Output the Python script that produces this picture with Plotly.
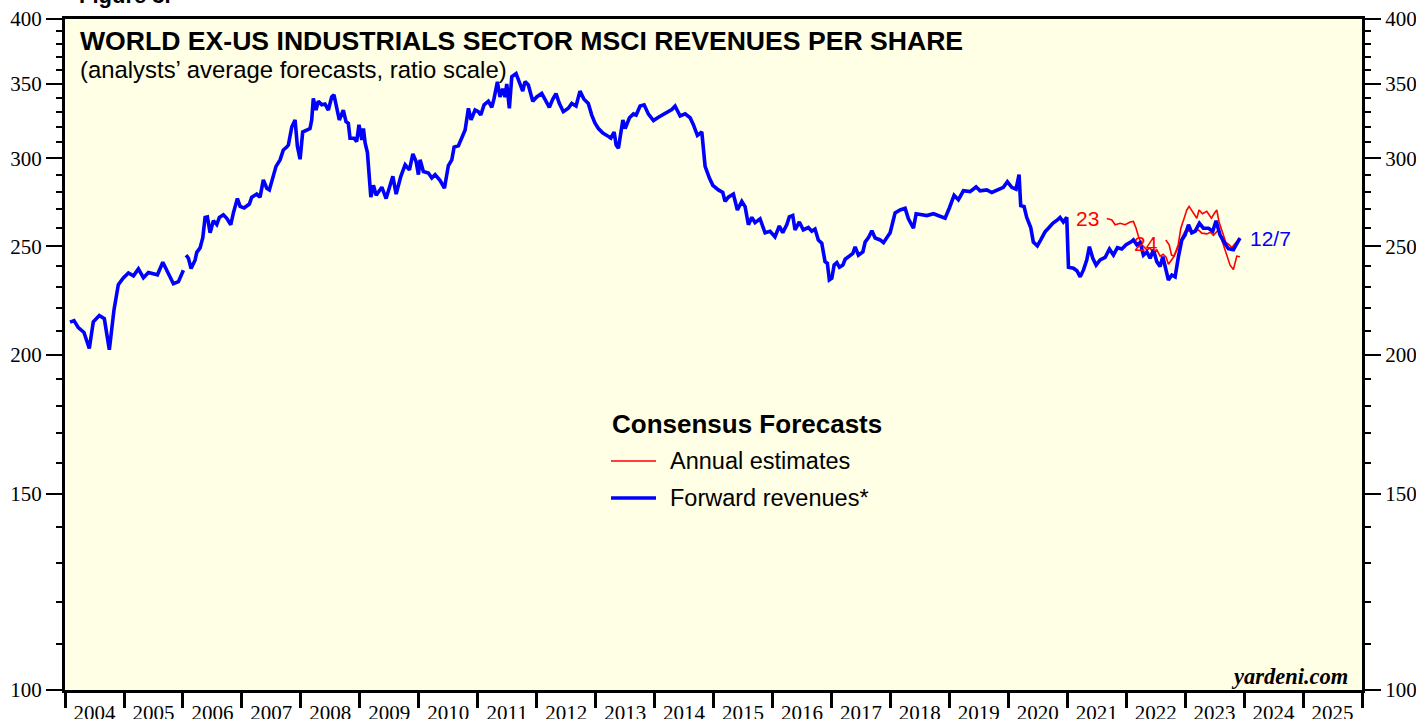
import pandas as pd
import plotly.graph_objs as go

# forward revenues (weekly-ish readings, decimal years)
fwd_years = [
    2004.085, 2004.153, 2004.226, 2004.322, 2004.412, 2004.480, 2004.582, 2004.667, 2004.752, 2004.831,
    2004.904, 2004.989, 2005.074, 2005.159, 2005.243, 2005.328, 2005.413, 2005.566, 2005.657, 2005.752,
    2005.837, 2005.922, 2006.007, 2006.030, 2006.053, 2006.092, 2006.137, 2006.205, 2006.234, 2006.290,
    2006.336, 2006.375, 2006.414, 2006.460, 2006.516, 2006.573, 2006.617, 2006.685, 2006.743, 2006.811,
    2006.855, 2006.923, 2006.969, 2007.037, 2007.127, 2007.167, 2007.252, 2007.308, 2007.364, 2007.422,
    2007.466, 2007.534, 2007.579, 2007.647, 2007.703, 2007.761, 2007.788, 2007.846, 2007.902, 2007.941,
    2007.987, 2008.032, 2008.100, 2008.156, 2008.185, 2008.212, 2008.258, 2008.297, 2008.355, 2008.411,
    2008.467, 2008.524, 2008.563, 2008.609, 2008.653, 2008.721, 2008.767, 2008.806, 2008.835, 2008.903,
    2008.948, 2008.987, 2009.033, 2009.060, 2009.089, 2009.128, 2009.162, 2009.186, 2009.230, 2009.276,
    2009.372, 2009.445, 2009.559, 2009.615, 2009.695, 2009.768, 2009.841, 2009.899, 2009.954, 2009.993,
    2010.022, 2010.078, 2010.163, 2010.221, 2010.277, 2010.362, 2010.435, 2010.502, 2010.560, 2010.599,
    2010.672, 2010.730, 2010.786, 2010.842, 2010.887, 2010.955, 2011.011, 2011.052, 2011.108, 2011.181,
    2011.239, 2011.278, 2011.334, 2011.379, 2011.425, 2011.464, 2011.493, 2011.537, 2011.578, 2011.651,
    2011.707, 2011.764, 2011.803, 2011.859, 2011.934, 2012.002, 2012.087, 2012.143, 2012.216, 2012.273,
    2012.329, 2012.385, 2012.453, 2012.538, 2012.596, 2012.669, 2012.736, 2012.804, 2012.877, 2012.935,
    2012.991, 2013.047, 2013.122, 2013.190, 2013.257, 2013.313, 2013.347, 2013.386, 2013.461, 2013.500,
    2013.573, 2013.640, 2013.686, 2013.754, 2013.822, 2013.895, 2013.980, 2014.065, 2014.149, 2014.234,
    2014.292, 2014.348, 2014.433, 2014.518, 2014.602, 2014.658, 2014.726, 2014.801, 2014.857, 2014.930,
    2014.988, 2015.083, 2015.157, 2015.196, 2015.252, 2015.337, 2015.405, 2015.480, 2015.536, 2015.592,
    2015.650, 2015.705, 2015.790, 2015.875, 2015.960, 2016.044, 2016.117, 2016.175, 2016.243, 2016.287,
    2016.345, 2016.384, 2016.457, 2016.524, 2016.609, 2016.667, 2016.723, 2016.779, 2016.837, 2016.893,
    2016.932, 2016.966, 2017.006, 2017.045, 2017.091, 2017.135, 2017.193, 2017.232, 2017.305, 2017.362,
    2017.401, 2017.457, 2017.532, 2017.571, 2017.627, 2017.685, 2017.741, 2017.826, 2017.882, 2017.940,
    2017.995, 2018.041, 2018.080, 2018.165, 2018.250, 2018.306, 2018.391, 2018.437, 2018.533, 2018.618,
    2018.730, 2018.815, 2018.928, 2019.001, 2019.081, 2019.154, 2019.239, 2019.352, 2019.454, 2019.522,
    2019.636, 2019.721, 2019.833, 2019.917, 2019.985, 2020.060, 2020.133, 2020.184, 2020.212, 2020.269,
    2020.314, 2020.382, 2020.426, 2020.494, 2020.552, 2020.625, 2020.681, 2020.756, 2020.834, 2020.879,
    2020.935, 2020.993, 2021.020, 2021.105, 2021.163, 2021.219, 2021.275, 2021.331, 2021.375, 2021.433,
    2021.489, 2021.557, 2021.642, 2021.715, 2021.783, 2021.850, 2021.925, 2021.998, 2022.078, 2022.122,
    2022.180, 2022.236, 2022.292, 2022.350, 2022.406, 2022.462, 2022.519, 2022.575, 2022.621, 2022.672,
    2022.716, 2022.774, 2022.830, 2022.886, 2022.944, 2023.000, 2023.057, 2023.113, 2023.169, 2023.242,
    2023.310, 2023.395, 2023.469, 2023.525, 2023.593, 2023.661, 2023.734, 2023.819, 2023.930,
]
fwd_values = [
    213.8, 214.5, 211.4, 209.3, 202.5, 214.0, 216.8, 215.4, 202.0, 219.3,
    231.0, 234.3, 236.7, 235.3, 238.7, 234.4, 236.9, 235.8, 242.0, 236.4,
    231.5, 232.5, 238.0, None, 245.6, 244.0, 238.9, 243.0, 247.0, 249.3,
    254.6, 265.5, 265.8, 257.2, 263.7, 261.6, 265.5, 266.9, 265.0, 261.5,
    268.0, 276.0, 271.6, 270.7, 272.9, 276.8, 278.6, 276.8, 286.9, 282.0,
    281.0, 290.0, 295.0, 299.0, 305.2, 307.0, 308.3, 320.0, 324.7, 307.5,
    299.4, 316.7, 318.0, 319.0, 324.7, 339.5, 331.4, 337.5, 335.0, 335.5,
    331.4, 340.5, 342.0, 333.3, 324.7, 331.4, 323.5, 322.5, 312.7, 312.7,
    310.5, 321.5, 311.6, 319.0, 309.6, 303.5, 289.0, 276.8, 283.7, 277.9,
    282.6, 276.0, 289.0, 278.6, 289.0, 296.0, 292.9, 302.7, 298.0, 290.0,
    299.0, 291.9, 291.0, 288.0, 290.0, 286.5, 282.0, 295.5, 299.0, 307.0,
    307.8, 313.5, 318.0, 332.6, 324.7, 331.4, 330.3, 328.0, 335.0, 337.5,
    333.3, 339.5, 351.3, 340.5, 346.3, 340.5, 349.8, 332.6, 355.0, 357.3,
    351.5, 344.6, 351.5, 349.0, 337.5, 340.5, 343.0, 338.4, 333.3, 338.9,
    342.8, 336.0, 330.3, 332.6, 336.0, 334.2, 344.6, 338.9, 336.0, 328.0,
    322.5, 319.0, 316.0, 314.5, 312.7, 316.7, 308.3, 306.3, 324.7, 319.0,
    326.2, 328.8, 328.0, 334.2, 335.0, 328.6, 324.3, 326.5, 328.6, 330.3,
    331.8, 334.2, 327.4, 328.8, 326.2, 321.5, 314.5, 316.7, 295.0, 288.0,
    283.7, 281.0, 279.5, 274.4, 276.8, 278.6, 269.6, 274.4, 271.5, 261.5,
    265.5, 262.6, 264.7, 257.2, 258.0, 255.0, 260.8, 257.3, 261.5, 265.8,
    266.5, 258.7, 263.0, 258.7, 260.0, 258.0, 259.2, 253.4, 251.7, 242.3,
    241.5, 233.3, 234.1, 240.6, 241.8, 239.5, 240.6, 243.5, 245.1, 246.4,
    249.8, 245.6, 247.2, 252.3, 254.6, 258.3, 254.4, 253.4, 252.0, 254.6,
    257.2, 263.0, 268.0, 269.6, 270.5, 264.7, 259.6, 267.5, 267.0, 266.5,
    267.5, 266.5, 265.0, 270.7, 277.9, 275.3, 280.5, 280.0, 282.7, 280.5,
    281.0, 279.5, 281.4, 282.5, 285.8, 282.5, 281.4, 290.0, 272.0, 271.5,
    265.5, 260.0, 252.3, 250.3, 253.4, 257.7, 259.6, 262.3, 264.1, 265.5,
    263.0, 265.5, 239.5, 239.0, 237.8, 234.8, 238.2, 243.2, 249.9, 244.0,
    240.6, 243.2, 244.4, 248.7, 245.6, 249.4, 248.7, 250.9, 252.3, 253.4,
    250.9, 252.0, 245.6, 247.2, 244.0, 248.3, 242.3, 239.9, 244.8, 239.0,
    233.3, 235.7, 234.8, 244.8, 253.4, 256.0, 261.5, 257.2, 258.0, 262.3,
    259.6, 259.6, 258.0, 263.7, 256.0, 252.3, 248.9, 248.3, 254.4,
]

# annual estimates
est23_years = [
    2021.671, 2021.756, 2021.812, 2021.897, 2021.982, 2022.067, 2022.122, 2022.168, 2022.207, 2022.265,
    2022.350, 2022.406, 2022.462, 2022.519, 2022.575, 2022.626, 2022.677, 2022.716, 2022.790, 2022.858,
    2022.944, 2023.000, 2023.068, 2023.142, 2023.226, 2023.284, 2023.369, 2023.429, 2023.480, 2023.564,
    2023.649, 2023.707, 2023.763, 2023.819, 2023.877, 2023.930,
]
est23_values = [
    264.9, 264.1, 261.5, 262.3, 261.5, 263.0, 263.3, 259.6, 255.3, 250.9,
    248.3, 249.2, 246.6, 248.3, 245.1, 246.0, 244.5, 241.0, 244.0, 248.0,
    254.6, 258.0, 258.3, 257.5, 258.7, 257.0, 256.6, 257.5, 255.8, 258.7,
    250.9, 245.1, 240.5, 238.4, 245.1, 244.8,
]
est24_years = [
    2022.672, 2022.729, 2022.769, 2022.814, 2022.882, 2022.927, 2022.983, 2023.029, 2023.068, 2023.108,
    2023.152, 2023.198, 2023.237, 2023.294, 2023.367, 2023.406, 2023.447, 2023.491, 2023.537, 2023.576,
    2023.633, 2023.689, 2023.746, 2023.792, 2023.831, 2023.930,
]
est24_values = [
    253.4, 250.9, 245.6, 245.1, 250.9, 259.6, 265.0, 269.6, 271.6, 269.6,
    266.8, 265.0, 269.6, 267.5, 268.8, 266.8, 265.0, 267.5, 269.6, 263.0,
    257.5, 252.3, 250.9, 249.4, 250.9, 254.4,
]

y_major = [100, 150, 200, 250, 300, 350, 400]
y_minor = [v for v in range(110, 400, 10) if v not in y_major]
last_date_label = "12/7"

BLUE = "#0000ff"
RED = "#ff0000"
SERIF = "Liberation Serif, Times New Roman, serif"
SANS = "Liberation Sans, Arial, sans-serif"

# plot box in pixels
L, R, T, B = 65, 1362, 19, 690
W, H = 1416, 719


def to_dates(years):
    return [pd.Timestamp(int(y), 1, 1) + pd.Timedelta(days=(y - int(y)) * 365.25) for y in years]


def px(x):
    return (x - L) / (R - L)


def py(y):
    return 1 - (y - T) / (B - T)


fwd_x = to_dates(fwd_years)
e23_x = to_dates(est23_years)
e24_x = to_dates(est24_years)

fig = go.Figure()
fig.add_trace(go.Scatter(x=e23_x, y=est23_values, mode="lines", line=dict(color=RED, width=1.6),
                         name="Annual estimates", hoverinfo="skip"))
fig.add_trace(go.Scatter(x=e24_x, y=est24_values, mode="lines", line=dict(color=RED, width=1.6),
                         name="Annual estimates", hoverinfo="skip"))
fig.add_trace(go.Scatter(x=fwd_x, y=fwd_values, mode="lines", line=dict(color=BLUE, width=3.6),
                         name="Forward revenues*"))
# empty helpers so the extra tick axes get drawn
for ax in ["y2", "y3", "y4"]:
    fig.add_trace(go.Scatter(x=[fwd_x[0]], y=[200], yaxis=ax, mode="markers",
                             marker=dict(opacity=0), hoverinfo="skip"))

yrange = [2, 2.60206]
ybase = dict(type="log", range=yrange, showgrid=False, zeroline=False, fixedrange=True,
             automargin=False)
fig.update_layout(
    width=W, height=H,
    margin=dict(l=L, r=W - R, t=T, b=H - B, autoexpand=False),
    paper_bgcolor="white",
    plot_bgcolor="#ffffe5",
    showlegend=False,
    xaxis=dict(
        type="date", range=["2004-01-01", "2026-01-01"], dtick="M12", tick0="2004-01-01",
        tickformat="%Y", ticklabelmode="period", ticks="outside", ticklen=15, tickwidth=3,
        ticklabelstandoff=-13,
        tickcolor="black", showline=True, linewidth=3, linecolor="black", mirror=True,
        showgrid=False, automargin=False, tickfont=dict(family=SERIF, size=21, color="black"),
    ),
    yaxis=dict(ybase, side="left", tickvals=y_major, ticktext=[str(v) for v in y_major],
               ticks="outside", ticklen=16, tickwidth=1.5, tickcolor="black",
               showline=True, linewidth=3, linecolor="black",
               tickfont=dict(family=SERIF, size=21, color="black")),
    yaxis2=dict(ybase, overlaying="y", side="left", tickvals=y_minor, showticklabels=False,
                ticks="outside", ticklen=8, tickwidth=1.5, tickcolor="black", showline=False),
    yaxis3=dict(ybase, overlaying="y", side="right", anchor="x", tickvals=y_major,
                ticktext=[str(v) for v in y_major], ticks="outside", ticklen=16, tickwidth=1.5,
                tickcolor="black", showline=True, linewidth=3, linecolor="black",
                tickfont=dict(family=SERIF, size=21, color="black")),
    yaxis4=dict(ybase, overlaying="y", side="right", anchor="x", tickvals=y_minor,
                showticklabels=False, ticks="outside", ticklen=8, tickwidth=1.5,
                tickcolor="black", showline=False),
)

fig.add_annotation(text="<b>Figure 3.</b>", xref="paper", yref="paper", x=px(77), y=py(-5),
                   xanchor="left", yanchor="middle", showarrow=False,
                   font=dict(family=SANS, size=22, color="black"))
fig.add_annotation(text="<b>WORLD EX-US INDUSTRIALS SECTOR MSCI REVENUES PER SHARE</b>",
                   xref="paper", yref="paper", x=px(78), y=py(41),
                   xanchor="left", yanchor="middle", showarrow=False,
                   font=dict(family=SANS, size=26.6, color="black"))
fig.add_annotation(text="(analysts’ average forecasts, ratio scale)",
                   xref="paper", yref="paper", x=px(78), y=py(69),
                   xanchor="left", yanchor="middle", showarrow=False,
                   font=dict(family=SANS, size=23.9, color="black"))
fig.add_annotation(text="<b><i>yardeni.com</i></b>", xref="paper", yref="paper",
                   x=px(1350), y=py(676), xanchor="right", yanchor="middle",
                   showarrow=False, font=dict(family=SERIF, size=22.5, color="black"))

# legend drawn by hand
fig.add_annotation(text="<b>Consensus Forecasts</b>", xref="paper", yref="paper",
                   x=px(610), y=py(424), xanchor="left", yanchor="middle", showarrow=False,
                   font=dict(family=SANS, size=26, color="black"))
legend_items = [("Annual estimates", RED, 1.6, 461), ("Forward revenues*", BLUE, 3.6, 498)]
for label, color, width, ypix in legend_items:
    fig.add_shape(type="line", xref="paper", yref="paper", x0=px(611), x1=px(656),
                  y0=py(ypix), y1=py(ypix), line=dict(color=color, width=width))
    fig.add_annotation(text=label, xref="paper", yref="paper", x=px(668), y=py(ypix),
                       xanchor="left", yanchor="middle", showarrow=False,
                       font=dict(family=SANS, size=23.5, color="black"))

# series labels
fig.add_annotation(text="23", x=e23_x[0], y=2.423, xanchor="right", yanchor="middle", xshift=-6,
                   showarrow=False, font=dict(family=SANS, size=21, color=RED))
fig.add_annotation(text="24", x=e24_x[0], y=2.401, xanchor="right", yanchor="middle", xshift=-6,
                   showarrow=False, font=dict(family=SANS, size=21, color=RED))
fig.add_annotation(text=last_date_label, x=fwd_x[-1], y=2.4055, xanchor="left", yanchor="middle",
                   xshift=8, showarrow=False, font=dict(family=SANS, size=21, color=BLUE))

fig.write_html("out.html", config={"displayModeBar": False},
               post_script="document.body.style.margin='0px';")
